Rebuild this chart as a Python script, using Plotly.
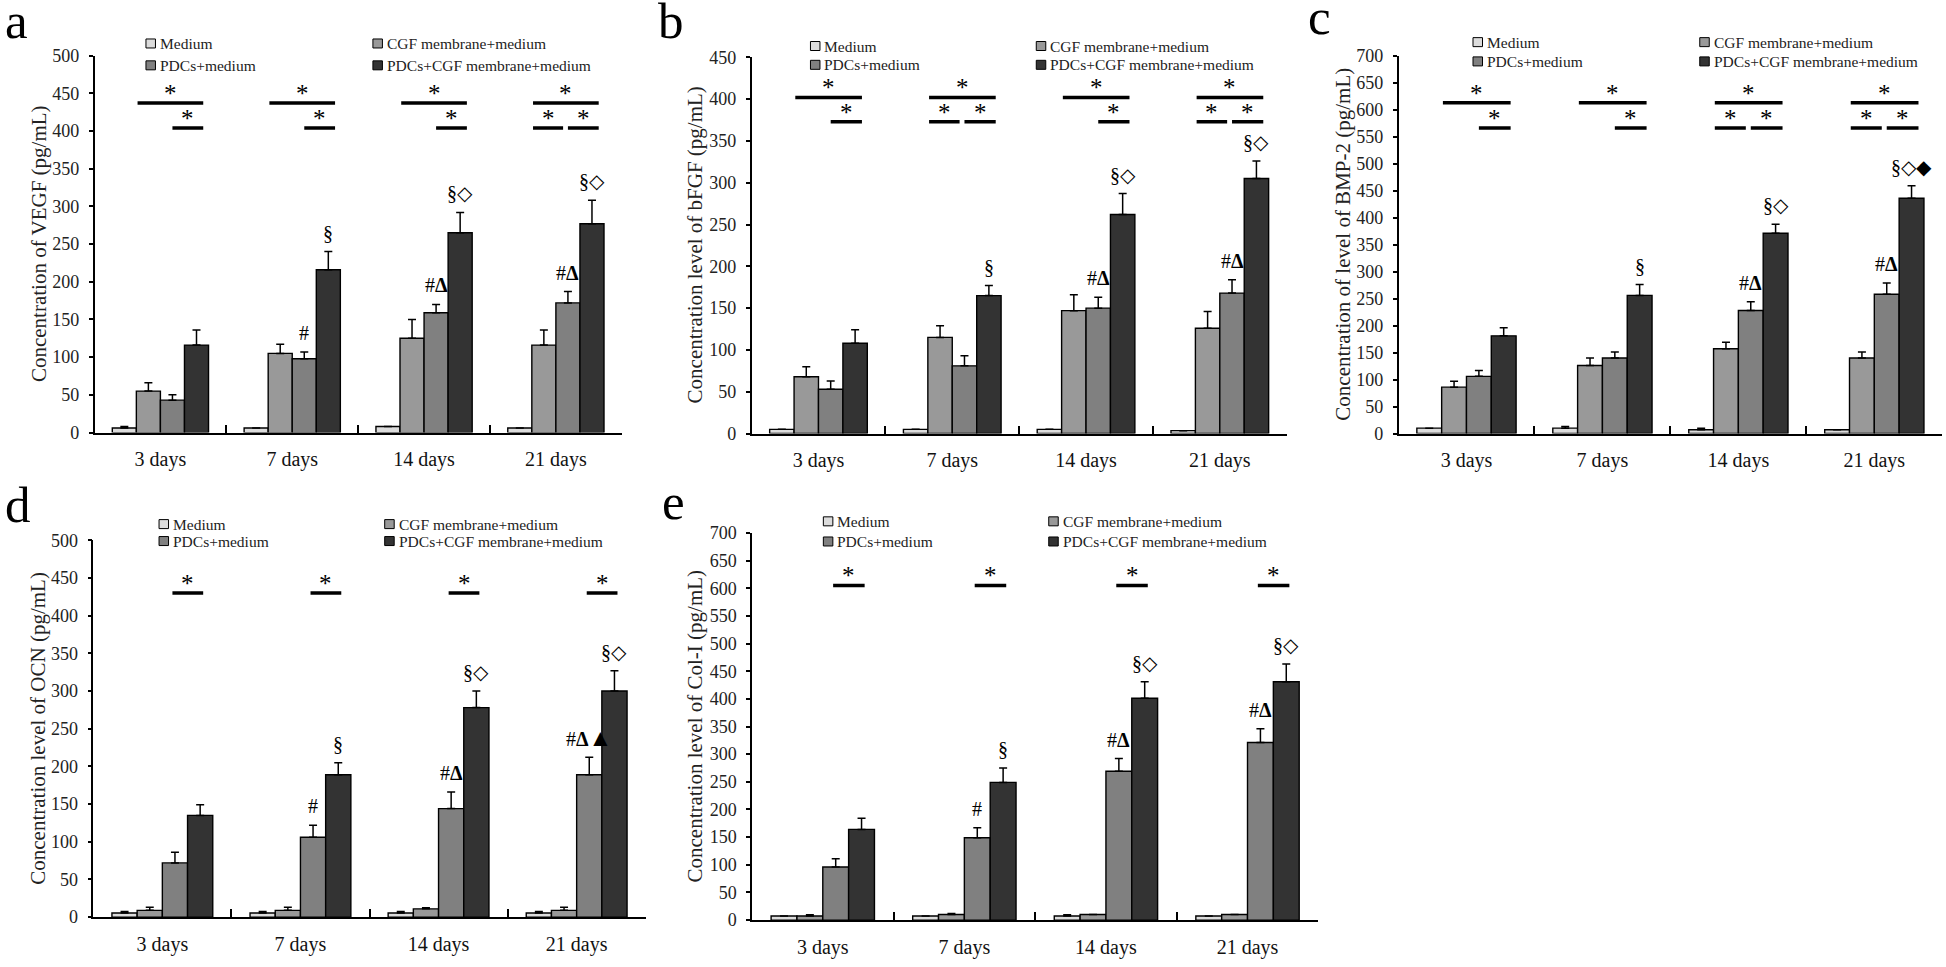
import plotly.graph_objects as go

W, H = 1946, 967
FONT = "Liberation Serif"

days = ["3 days", "7 days", "14 days", "21 days"]
series_names = ["Medium", "CGF membrane+medium", "PDCs+medium", "PDCs+CGF membrane+medium"]
series_colors = ["#dcdcdc", "#999999", "#808080", "#333333"]

# ---- panel a : VEGF ----
vegf_medium = [6, 6, 8, 6]
vegf_medium_err = [2, 0, 0, 0]
vegf_cgf = [55, 105, 125, 116]
vegf_cgf_err = [11, 12, 25, 20]
vegf_pdcs = [43, 98, 159, 172]
vegf_pdcs_err = [7, 9, 11, 15]
vegf_combo = [116, 216, 265, 277]
vegf_combo_err = [20, 24, 27, 31]

# ---- panel b : bFGF ----
bfgf_medium = [5, 5, 5, 3.5]
bfgf_medium_err = [0, 0, 0, 0]
bfgf_cgf = [68, 115, 147, 126]
bfgf_cgf_err = [12, 14, 19, 20]
bfgf_pdcs = [53, 81, 150, 168]
bfgf_pdcs_err = [10, 12, 13, 16]
bfgf_combo = [108, 165, 262, 305]
bfgf_combo_err = [16, 12, 25, 21]

# ---- panel c : BMP-2 ----
bmp_medium = [10, 10, 7, 7]
bmp_medium_err = [0, 3, 3, 0]
bmp_cgf = [86, 126, 157, 140]
bmp_cgf_err = [11, 14, 12, 11]
bmp_pdcs = [106, 140, 228, 258]
bmp_pdcs_err = [11, 11, 16, 21]
bmp_combo = [181, 256, 371, 436]
bmp_combo_err = [15, 20, 17, 23]

# ---- panel d : OCN ----
ocn_medium = [5.5, 5.5, 5.5, 5.5]
ocn_medium_err = [2, 2, 2, 2]
ocn_cgf = [9, 9, 11, 9]
ocn_cgf_err = [4, 4, 1.5, 4]
ocn_pdcs = [72, 106, 144, 189]
ocn_pdcs_err = [14, 16, 22, 23]
ocn_combo = [135, 189, 278, 300]
ocn_combo_err = [14, 16, 22, 27]

# ---- panel e : Col-I ----
col_medium = [7.5, 7.5, 7.5, 7.5]
col_medium_err = [0, 0, 2, 0]
col_cgf = [7.5, 10, 10, 10]
col_cgf_err = [2, 2, 0, 0]
col_pdcs = [96, 149, 269, 321]
col_pdcs_err = [15, 18, 23, 25]
col_combo = [164, 249, 401, 431]
col_combo_err = [20, 26, 30, 32]

# significance marks: (day index, "long"/"L"/"R", level)
vegf_sig = [(0, "long", 437), (0, "R", 404), (1, "long", 437), (1, "R", 404),
            (2, "long", 437), (2, "R", 404), (3, "long", 437), (3, "L", 404), (3, "R", 404)]
bfgf_sig = [(0, "long", 402), (0, "R", 373), (1, "long", 402), (1, "L", 373), (1, "R", 373),
            (2, "long", 402), (2, "R", 373), (3, "long", 402), (3, "L", 373), (3, "R", 373)]
bmp_sig = [(0, "long", 613), (0, "R", 566), (1, "long", 613), (1, "R", 566),
           (2, "long", 613), (2, "L", 566), (2, "R", 566),
           (3, "long", 613), (3, "L", 566), (3, "R", 566)]
ocn_sig = [(0, "S", 430), (1, "S", 430), (2, "S", 430), (3, "S", 430)]
col_sig = [(0, "S", 605), (1, "S", 605), (2, "S", 605), (3, "S", 605)]

# symbols above bars: (day index, series index, text)
DELTA = "<b>Δ</b>"
TRI = "<span style='font-size:24px'>▲</span>"
vegf_marks = [(1, 2, "#"), (1, 3, "§"), (2, 2, "#" + DELTA), (2, 3, "§◇"),
              (3, 2, "#" + DELTA), (3, 3, "§◇")]
bfgf_marks = [(1, 3, "§"), (2, 2, "#" + DELTA), (2, 3, "§◇"), (3, 2, "#" + DELTA), (3, 3, "§◇")]
bmp_marks = [(1, 3, "§"), (2, 2, "#" + DELTA), (2, 3, "§◇"), (3, 2, "#" + DELTA), (3, 3, "§◇◆")]
ocn_marks = [(1, 2, "#"), (1, 3, "§"), (2, 2, "#" + DELTA), (2, 3, "§◇"),
             (3, 2, "#" + DELTA + TRI), (3, 3, "§◇")]
col_marks = [(1, 2, "#"), (1, 3, "§"), (2, 2, "#" + DELTA), (2, 3, "§◇"),
             (3, 2, "#" + DELTA), (3, 3, "§◇")]

BARGAP = 0.27
SLOTS = {"long": (1.05, 3.78), "L": (1.05, 2.3), "R": (2.5, 3.78), "S": (2.4, 3.62)}

panels = [
    dict(letter="a", title="Concentration of VEGF (pg/mL)", ymax=500,
         px=(94.5, 621.8), py=(46.5, 431.5), title_x=39, letter_xy=(3, 42),
         leg=(0.0976, 0.528, 1.032, 0.974),
         series=[(vegf_medium, vegf_medium_err), (vegf_cgf, vegf_cgf_err),
                 (vegf_pdcs, vegf_pdcs_err), (vegf_combo, vegf_combo_err)],
         sig=vegf_sig, marks=vegf_marks),
    dict(letter="b", title="Concentration level of bFGF (pg/mL)", ymax=450,
         px=(751.6, 1286.7), py=(48.3, 432.5), title_x=695, letter_xy=(656, 42),
         leg=(0.110, 0.532, 1.030, 0.980),
         series=[(bfgf_medium, bfgf_medium_err), (bfgf_cgf, bfgf_cgf_err),
                 (bfgf_pdcs, bfgf_pdcs_err), (bfgf_combo, bfgf_combo_err)],
         sig=bfgf_sig, marks=bfgf_marks),
    dict(letter="c", title="Concentration of level of BMP-2 (pg/mL)", ymax=700,
         px=(1398.5, 1942.3), py=(46.7, 432.5), title_x=1343, letter_xy=(1306, 38),
         leg=(0.137, 0.554, 1.036, 0.985),
         series=[(bmp_medium, bmp_medium_err), (bmp_cgf, bmp_cgf_err),
                 (bmp_pdcs, bmp_pdcs_err), (bmp_combo, bmp_combo_err)],
         sig=bmp_sig, marks=bmp_marks),
    dict(letter="d", title="Concentration level of OCN (pg/mL)", ymax=500,
         px=(93.3, 645.7), py=(541.5, 926.3), title_x=38, letter_xy=(3, 536),
         leg=(0.119, 0.5275, 1.043, 0.998),
         series=[(ocn_medium, ocn_medium_err), (ocn_cgf, ocn_cgf_err),
                 (ocn_pdcs, ocn_pdcs_err), (ocn_combo, ocn_combo_err)],
         sig=ocn_sig, marks=ocn_marks),
    dict(letter="e", title="Concentration level of Col-I (pg/mL)", ymax=700,
         px=(752, 1318.3), py=(534, 929.3), title_x=695, letter_xy=(660, 533),
         leg=(0.126, 0.524, 1.030, 0.978),
         series=[(col_medium, col_medium_err), (col_cgf, col_cgf_err),
                 (col_pdcs, col_pdcs_err), (col_combo, col_combo_err)],
         sig=col_sig, marks=col_marks),
]

fig = go.Figure()
shapes, annotations = [], []
layout = {}

w_bar = (1 - BARGAP) / 4


def slot_x(day, slot):
    return day - 0.5 + BARGAP / 2 + slot * w_bar


for k, p in enumerate(panels):
    sfx = "" if k == 0 else str(k + 1)
    xa, ya = "x" + sfx, "y" + sfx
    for s, (vals, errs) in enumerate(p["series"]):
        fig.add_trace(go.Bar(
            x=days, y=vals, name=series_names[s], xaxis=xa, yaxis=ya,
            marker=dict(color=series_colors[s], line=dict(color="black", width=1.4)),
            error_y=dict(type="data", symmetric=False, array=errs, arrayminus=[0] * 4,
                         color="black", thickness=1.5, width=4),
            showlegend=False,
        ))
    layout["xaxis" + sfx] = dict(
        domain=[p["px"][0] / W, p["px"][1] / W], anchor=ya, type="category",
        categoryorder="array", categoryarray=days, range=[-0.5, 3.5],
        tickson="boundaries", ticks="inside", ticklen=8, tickwidth=1.5, tickcolor="black",
        showline=True, linecolor="black", linewidth=1.5, showgrid=False,
        tickfont=dict(family=FONT, size=20, color="#111"), ticklabelstandoff=8,
    )
    layout["yaxis" + sfx] = dict(
        domain=[1 - p["py"][1] / H, 1 - p["py"][0] / H], anchor=xa,
        range=[0, p["ymax"]], dtick=50, ticks="outside", ticklen=4, tickwidth=1.5,
        tickcolor="black", showline=True, linecolor="black", linewidth=1.5,
        showgrid=False, zeroline=False, ticklabelstandoff=6,
        tickfont=dict(family=FONT, size=18, color="#222"),
    )
    # y title
    annotations.append(dict(
        text=p["title"], xref="paper", x=p["title_x"] / W, yref=ya + " domain", y=0.5,
        textangle=-90, showarrow=False, xanchor="center", yanchor="middle",
        font=dict(family=FONT, size=21, color="#222"),
    ))
    # panel letter (y given as bottom of text box)
    annotations.append(dict(
        text=p["letter"], xref="paper", yref="paper", x=p["letter_xy"][0] / W,
        y=1 - p["letter_xy"][1] / H, xanchor="left", yanchor="bottom", showarrow=False,
        font=dict(family=FONT, size=51, color="black"),
    ))
    # legend (2 columns)
    c1, c2, r1, r2 = p["leg"]
    leg_items = [(c1, r1, 0), (c2, r1, 1), (c1, r2, 2), (c2, r2, 3)]
    for cx, ry, s in leg_items:
        shapes.append(dict(
            type="rect", xref=xa + " domain", yref=ya + " domain",
            xsizemode="pixel", ysizemode="pixel", xanchor=cx, yanchor=ry,
            x0=0, x1=9.5, y0=-4.5, y1=4.5,
            fillcolor=series_colors[s], line=dict(color="black", width=1),
        ))
        annotations.append(dict(
            text=series_names[s], xref=xa + " domain", yref=ya + " domain",
            x=cx, y=ry, xanchor="left", yanchor="middle", xshift=12, showarrow=False,
            font=dict(family=FONT, size=15.5, color="#222"),
        ))
    # significance bars
    for day, kind, level in p["sig"]:
        s0, s1 = SLOTS[kind]
        x0, x1 = slot_x(day, s0), slot_x(day, s1)
        shapes.append(dict(type="line", xref=xa, yref=ya, x0=x0, x1=x1, y0=level, y1=level,
                           line=dict(color="black", width=3.5)))
        annotations.append(dict(
            text="*", xref=xa, yref=ya, x=(x0 + x1) / 2, y=level, xanchor="center",
            yanchor="bottom", yshift=-6, showarrow=False,
            font=dict(family=FONT, size=25, color="black"),
        ))
    # symbols above bars
    for day, s, txt in p["marks"]:
        vals, errs = p["series"][s]
        annotations.append(dict(
            text=txt, xref=xa, yref=ya, x=slot_x(day, s + 0.5), y=vals[day] + errs[day],
            xanchor="center", yanchor="middle", yshift=19, showarrow=False,
            font=dict(family=FONT, size=20, color="black"),
        ))

fig.update_layout(
    width=W, height=H, margin=dict(l=0, r=0, t=0, b=0),
    paper_bgcolor="white", plot_bgcolor="white",
    barmode="group", bargap=BARGAP, bargroupgap=0,
    shapes=shapes, annotations=annotations, showlegend=False,
    **layout,
)
fig.write_html("out.html", config={"displayModeBar": False},
               post_script="document.body.style.margin='0';")
